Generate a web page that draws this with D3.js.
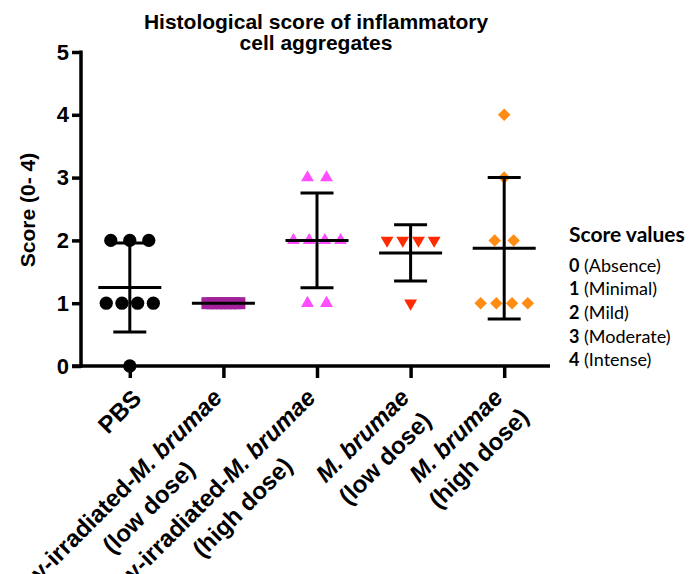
<!DOCTYPE html>
<html><head><meta charset="utf-8">
<script src="https://cdn.jsdelivr.net/npm/d3@7"></script>
<style>body{margin:0;background:#fff}svg{display:block}</style>
</head><body><svg id="c" width="691" height="574"></svg>
<script>
// ---- data ----
const categories = ["PBS", "γ-irradiated-M. brumae|(low dose)", "γ-irradiated-M. brumae|(high dose)", "M. brumae|(low dose)", "M. brumae|(high dose)"];
const pbsScores = [2, 2, 2, 1, 1, 1, 1, 0];
const gammaLowScores = [1, 1, 1, 1, 1, 1, 1, 1];
const gammaHighScores = [3, 3, 2, 2, 2, 2, 1, 1];
const brumaeLowScores = [2, 2, 2, 2, 1];
const brumaeHighScores = [4, 3, 2, 2, 1, 1, 1, 1];
const yTicks = [0, 1, 2, 3, 4, 5];
const titleLines = ["Histological score of inflammatory", "cell aggregates"];
const yLabel = "Score (0- 4)";
const legendTitle = "Score values";
const legendCodes = ["0", "1", "2", "3", "4"];
const legendNames = ["(Absence)", "(Minimal)", "(Mild)", "(Moderate)", "(Intense)"];

// ---- styling / layout ----
const groups = [pbsScores, gammaLowScores, gammaHighScores, brumaeLowScores, brumaeHighScores];
const colors = ["#000000", "#A3229B", "#FF4DFF", "#FF2A00", "#FF8C14"];
const shapes = ["circle", "square", "triUp", "triDown", "diamond"];
const svg = d3.select("#c");
const FONT = "'Liberation Sans', Arial, sans-serif";
const y = d3.scaleLinear().domain([0, 5]).range([366, 52]);
const x = d3.scalePoint().domain(categories).range([83, 551]).padding(0.5);
const axisX0 = 81, axisX1 = 550;

// title
svg.append("g").selectAll("text").data(titleLines).join("text")
  .attr("x", 316).attr("y", (d, i) => 29 + i * 21)
  .attr("text-anchor", "middle").attr("font-family", FONT)
  .attr("font-weight", "bold").attr("font-size", 21).attr("fill", "#000").text(d => d);

// y label
svg.append("text").attr("transform", "translate(35,210) rotate(-90)")
  .attr("text-anchor", "middle").attr("font-family", FONT)
  .attr("font-weight", "bold").attr("font-size", 21).text(yLabel);

// y axis
const yAxis = svg.append("g").attr("transform", `translate(${axisX0},0)`)
  .call(d3.axisLeft(y).tickValues(yTicks).tickFormat(d3.format("d")).tickSize(9).tickPadding(3).tickSizeOuter(0));
yAxis.select(".domain").remove();
yAxis.selectAll(".tick line").attr("stroke", "#000").attr("stroke-width", 3.5);
yAxis.selectAll(".tick text").attr("font-family", FONT).attr("font-weight", "bold")
  .attr("font-size", 22).attr("fill", "#000");
svg.append("line").attr("x1", axisX0).attr("x2", axisX0).attr("y1", y(5) - 1.5).attr("y2", y(0) + 1.75)
  .attr("stroke", "#000").attr("stroke-width", 3.5);

// x axis
const xAxis = svg.append("g").attr("transform", `translate(0,${y(0)})`)
  .call(d3.axisBottom(x).tickSize(12).tickFormat("").tickSizeOuter(0));
xAxis.select(".domain").remove();
xAxis.selectAll(".tick line").attr("stroke", "#000").attr("stroke-width", 3.5);
svg.append("line").attr("x1", axisX0 - 9).attr("x2", axisX1).attr("y1", y(0)).attr("y2", y(0))
  .attr("stroke", "#000").attr("stroke-width", 3.5);

// x labels
categories.forEach(cat => {
  const lines = cat.split("|");
  const n = lines.length;
  const dx = n === 1 ? 13 : 0, dy = n === 1 ? 34 : 33;
  const g = svg.append("g").attr("transform", `translate(${x(cat) + dx},${y(0) + dy}) rotate(-45)`);
  const texts = [];
  lines.forEach((ln, i) => {
    const t = g.append("text").attr("font-family", FONT).attr("font-weight", "bold")
      .attr("font-size", 24).attr("fill", "#000");
    const parts = ln.split(/(M\. brumae)/).filter(s => s.length);
    parts.forEach(p => {
      t.append("tspan").attr("font-style", p === "M. brumae" ? "italic" : "normal").text(p);
    });
    texts.push(t);
  });
  const w1 = texts[0].node().getComputedTextLength();
  texts.forEach((t, i) => {
    if (i === 0) t.attr("x", 0).attr("y", 0).attr("text-anchor", "end");
    else t.attr("x", -w1 / 2).attr("y", i * 32).attr("text-anchor", "middle");
  });
});

// points
function offsets(vals, gi) {
  const counts = d3.rollup(vals, v => v.length, d => d);
  const seen = new Map();
  return vals.map(v => {
    const nn = counts.get(v);
    const k = seen.get(v) || 0; seen.set(v, k + 1);
    let sp = nn >= 4 ? 15.7 : 19;
    if (gi === 1) sp = 32 / (nn - 1);
    return (k - (nn - 1) / 2) * sp;
  });
}
const symGen = {
  circle: d3.symbol().type(d3.symbolCircle).size(138),
  square: d3.symbol().type(d3.symbolSquare).size(144),
  triUp: d3.symbol().type(d3.symbolTriangle).size(72),
  triDown: d3.symbol().type(d3.symbolTriangle).size(72),
  diamond: d3.symbol().type(d3.symbolSquare).size(78)
};
const pts = svg.append("g");
groups.forEach((vals, gi) => {
  const offs = offsets(vals, gi);
  const cx = x(categories[gi]);
  pts.selectAll(null).data(vals).join("path")
    .attr("d", symGen[shapes[gi]]())
    .attr("transform", (d, i) => {
      let tr = `translate(${cx + offs[i]},${y(d)})`;
      if (shapes[gi] === "triDown") tr += " rotate(180)";
      if (shapes[gi] === "diamond") tr += " rotate(45)";
      return tr;
    })
    .attr("fill", colors[gi]);
});

// mean ± SD bars
const eb = svg.append("g").attr("stroke", "#000").attr("stroke-width", 3).attr("fill", "none");
groups.forEach((vals, gi) => {
  const m = d3.mean(vals), sd = d3.deviation(vals) || 0;
  const cx = x(categories[gi]);
  eb.append("line").attr("x1", cx - 31.5).attr("x2", cx + 31.5).attr("y1", y(m)).attr("y2", y(m));
  if (sd > 0) {
    eb.append("line").attr("x1", cx).attr("x2", cx).attr("y1", y(m + sd)).attr("y2", y(m - sd));
    [m + sd, m - sd].forEach(v => eb.append("line").attr("x1", cx - 16.5).attr("x2", cx + 16.5)
      .attr("y1", y(v)).attr("y2", y(v)));
  }
});

// legend
const LFONT = "Lato, 'Open Sans', sans-serif";
svg.append("text").attr("x", 569).attr("y", 242).attr("font-family", LFONT)
  .attr("font-weight", "bold").attr("font-size", 21).text(legendTitle);
legendCodes.forEach((c, i) => {
  const t = svg.append("text").attr("x", 569).attr("y", 271.5 + i * 23.7)
    .attr("font-family", LFONT).attr("font-size", 18).attr("fill", "#000");
  t.append("tspan").attr("font-weight", "bold").text(c);
  t.append("tspan").text(" " + legendNames[i]);
});
</script></body></html>
